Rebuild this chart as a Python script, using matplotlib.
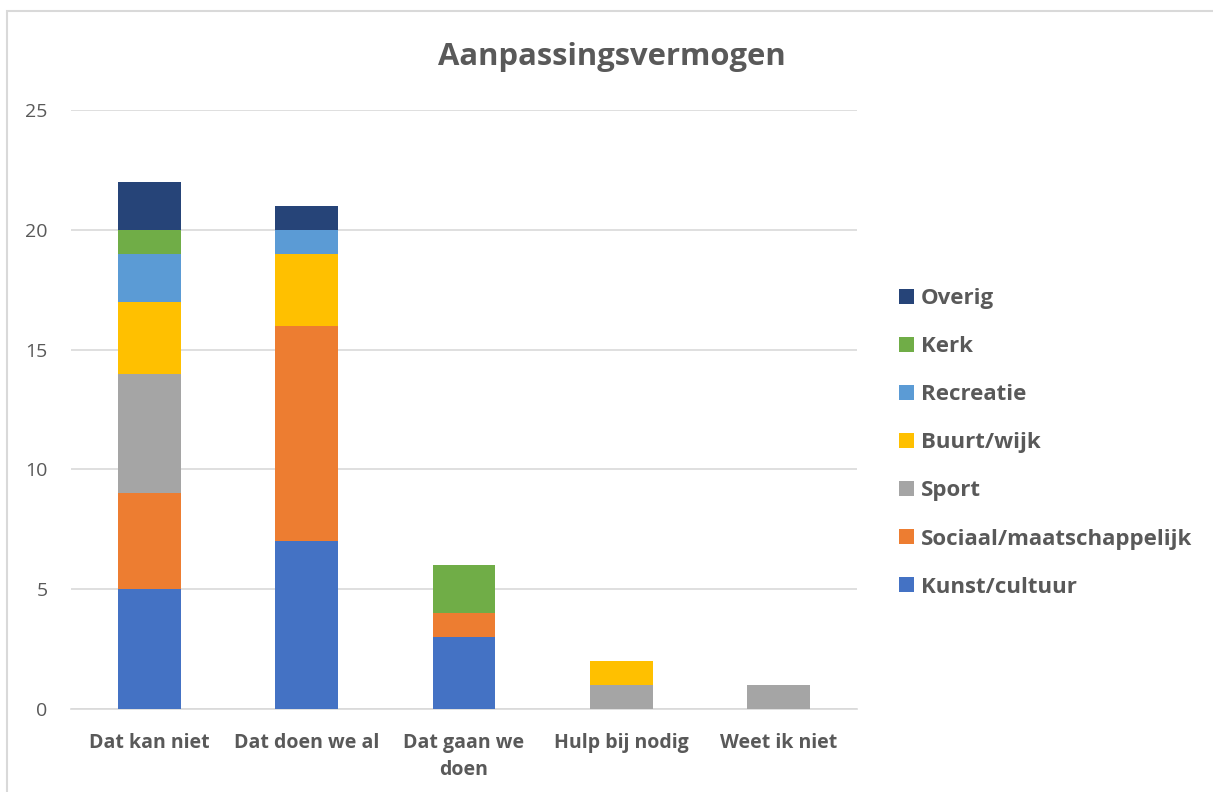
import matplotlib
matplotlib.use("Agg")
import matplotlib.pyplot as plt
from matplotlib.patches import Rectangle, Patch
import numpy as np

categories = ["Dat kan niet", "Dat doen we al", "Dat gaan we\ndoen", "Hulp bij nodig", "Weet ik niet"]
series_names = ["Kunst/cultuur", "Sociaal/maatschappelijk", "Sport", "Buurt/wijk", "Recreatie", "Kerk", "Overig"]
kunst = [5, 7, 3, 0, 0]
sociaal = [4, 9, 1, 0, 0]
sport = [5, 0, 0, 1, 1]
buurt = [3, 3, 0, 1, 0]
recreatie = [2, 1, 0, 0, 0]
kerk = [1, 0, 2, 0, 0]
overig = [2, 1, 0, 0, 0]
colors = ["#4472C4", "#ED7D31", "#A5A5A5", "#FFC000", "#5B9BD5", "#70AD47", "#264478"]
yticks = [0, 5, 10, 15, 20, 25]

plt.rcParams['font.family'] = ['Open Sans', 'DejaVu Sans']
txt = "#595959"

W, H = 1213, 792
fig = plt.figure(figsize=(W / 100, H / 100), dpi=100)
fig.patches.append(Rectangle((7 / W, -0.1), 1.2, (H - 11) / H + 0.1, transform=fig.transFigure,
                             fill=False, edgecolor="#D9D9D9", linewidth=1.5))

ax = fig.add_axes([71 / W, (H - 709) / H, (857 - 71) / W, (709 - 110) / H])
x = np.arange(len(categories))
bottom = np.zeros(len(categories))
all_series = [kunst, sociaal, sport, buurt, recreatie, kerk, overig]
for name, vals, c in zip(series_names, all_series, colors):
    v = np.array(vals, dtype=float)
    ax.bar(x, v, 0.4, bottom=bottom, color=c, label=name, zorder=3)
    bottom += v

ax.set_xlim(-0.5, len(categories) - 0.5)
ax.set_ylim(0, 25)
ax.set_yticks(yticks)
ax.set_yticklabels([str(t) for t in yticks], fontsize=14, color=txt)
ax.set_xticks(x)
ax.set_xticklabels(categories, fontsize=14, color=txt, fontweight="bold", linespacing=1.5)
ax.tick_params(axis="both", length=0)
ax.tick_params(axis="x", pad=17)
ax.tick_params(axis="y", pad=17)
ax.grid(axis="y", color="#D9D9D9", linewidth=1.2, zorder=0)
for s in ["top", "right", "left"]:
    ax.spines[s].set_visible(False)
ax.spines["bottom"].set_color("#D9D9D9")
ax.spines["bottom"].set_linewidth(1.2)

fig.text(612 / W, 1 - 57 / H, "Aanpassingsvermogen", ha="center", va="center",
         fontsize=22.3, fontweight="bold", color=txt)

handles = [Patch(facecolor=c) for c in colors][::-1]
labels = series_names[::-1]
leg = fig.legend(handles, labels, loc="upper left", bbox_to_anchor=(879 / W, 1 - 268 / H),
                 frameon=False, fontsize=16, handlelength=0.675, handleheight=0.675,
                 handletextpad=0.3, labelspacing=1.22)
for t in leg.get_texts():
    t.set_color(txt)
    t.set_fontweight("bold")

fig.savefig("out.png", dpi=100)
